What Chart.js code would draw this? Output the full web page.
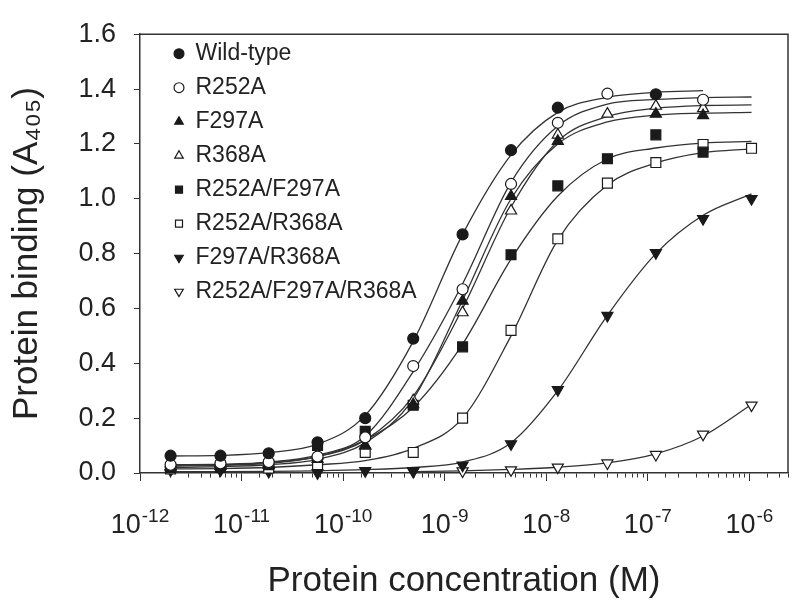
<!DOCTYPE html>
<html>
<head>
<meta charset="utf-8">
<script src="https://cdn.jsdelivr.net/npm/chart.js@4.4.1/dist/chart.umd.min.js"></script>
<style>
  html, body { margin: 0; padding: 0; background: #fff; }
  #wrap { width: 800px; height: 611px; }
</style>
</head>
<body>
<div id="wrap"><canvas id="chart" width="800" height="611"></canvas></div>
<script>
// protein concentration (M), 3-fold dilutions
const concentrations = [2.0e-12, 6.2e-12, 1.85e-11, 5.6e-11, 1.65e-10, 4.9e-10, 1.5e-9, 4.5e-9, 1.3e-8, 4.0e-8, 1.2e-7, 3.5e-7, 1.05e-6];

// measured points (A405), null = not shown
const wildType       = [0.063, 0.063, 0.072, 0.112, 0.20, 0.49, 0.87, 1.177, 1.332, null, 1.381, null, null];
const r252a          = [0.03, 0.035, 0.04, 0.06, 0.13, 0.39, 0.67, 1.054, 1.277, 1.383, null, 1.361, null];
const f297a          = [0.02, 0.025, 0.03, 0.05, 0.10, 0.25, 0.627, 1.009, 1.21, null, 1.309, 1.304, null];
const r368a          = [0.025, 0.034, 0.035, 0.063, 0.10, 0.264, 0.585, 0.956, 1.233, 1.309, 1.338, 1.329, null];
const r252aF297a     = [0.02, 0.02, 0.03, 0.10, 0.152, 0.247, 0.46, 0.796, 1.047, 1.146, 1.233, 1.170, null];
const r252aR368a     = [0.015, 0.02, 0.018, 0.03, 0.075, 0.075, 0.20, 0.52, 0.854, 1.057, 1.132, 1.198, 1.184];
const f297aR368a     = [0.01, 0.01, 0.005, 0.0, 0.008, 0.008, 0.028, 0.106, 0.303, 0.574, 0.803, 0.927, 1.0];
const r252aF297aR368a = [null, null, null, null, null, 0.005, 0.007, 0.011, 0.021, 0.036, 0.067, 0.141, 0.247];

// fitted curves at the same concentrations
const wildTypeFit       = [0.062, 0.064, 0.074, 0.105, 0.21, 0.48, 0.87, 1.16, 1.315, 1.37, 1.388, 1.394, null];
const r252aFit          = [0.03, 0.032, 0.04, 0.065, 0.135, 0.37, 0.69, 1.06, 1.265, 1.345, 1.362, 1.369, 1.371];
const f297aFit          = [0.02, 0.023, 0.03, 0.05, 0.11, 0.27, 0.63, 1.0, 1.2, 1.28, 1.305, 1.312, 1.315];
const r368aFit          = [0.028, 0.03, 0.038, 0.06, 0.12, 0.28, 0.6, 0.97, 1.21, 1.30, 1.33, 1.34, 1.342];
const r252aF297aFit     = [0.025, 0.028, 0.035, 0.06, 0.12, 0.24, 0.47, 0.78, 1.01, 1.145, 1.185, 1.203, 1.209];
const r252aR368aFit     = [0.015, 0.016, 0.02, 0.03, 0.045, 0.09, 0.2, 0.5, 0.85, 1.05, 1.13, 1.168, 1.182];
const f297aR368aFit     = [0.005, 0.005, 0.006, 0.008, 0.012, 0.02, 0.04, 0.11, 0.3, 0.575, 0.8, 0.94, 1.018];
const r252aF297aR368aFit = [null, null, null, null, null, 0.005, 0.008, 0.013, 0.021, 0.037, 0.07, 0.135, 0.25];

const yTicks = [0, 0.2, 0.4, 0.6, 0.8, 1.0, 1.2, 1.4, 1.6];

const series = [
  { label: "Wild-type", pts: wildType, fit: wildTypeFit, style: "circle", filled: true },
  { label: "R252A", pts: r252a, fit: r252aFit, style: "circle", filled: false },
  { label: "F297A", pts: f297a, fit: f297aFit, style: "triangle", filled: true },
  { label: "R368A", pts: r368a, fit: r368aFit, style: "triangle", filled: false },
  { label: "R252A/F297A", pts: r252aF297a, fit: r252aF297aFit, style: "rect", filled: true },
  { label: "R252A/R368A", pts: r252aR368a, fit: r252aR368aFit, style: "rect", filled: false },
  { label: "F297A/R368A", pts: f297aR368a, fit: f297aR368aFit, style: "triangle", rot: 180, filled: true },
  { label: "R252A/F297A/R368A", pts: r252aF297aR368a, fit: r252aF297aR368aFit, style: "triangle", rot: 180, filled: false }
];

const ink = "#1a1a1a";
const fontFamily = "'Liberation Sans', Arial, Helvetica, sans-serif";
const radii = { circle: 5.5, rect: 7, triangle: 6.4 };

const toXY = ys => concentrations.map((x, i) => ({ x, y: ys[i] })).filter(p => p.y !== null);

const datasets = [];
for (const s of series) {
  datasets.push({
    label: s.label,
    data: toXY(s.pts),
    showLine: false,
    pointStyle: s.style,
    rotation: s.rot || 0,
    pointRadius: radii[s.style],
    backgroundColor: s.filled ? ink : "#ffffff",
    borderColor: ink,
    borderWidth: 1.2,
    clip: false,
    order: 0
  });
}
for (const s of series) {
  datasets.push({
    label: s.label + " fit",
    isFit: true,
    data: toXY(s.fit),
    showLine: true,
    pointRadius: 0,
    borderColor: "#333333",
    borderWidth: 1.3,
    cubicInterpolationMode: "monotone",
    fill: false,
    order: 1
  });
}

const isPow10 = v => Math.abs(Math.log10(v) - Math.round(Math.log10(v))) < 1e-6;

// legend sits inside the plot, a bit in from the corner
const legendShift = {
  id: "legendShift",
  beforeDraw(chart) {
    chart.legend.left = chart.chartArea.left + 23;
    chart.legend.top = chart.chartArea.top - 3;
  }
};

// "10" with a raised exponent under each decade tick
const powerLabels = {
  id: "powerLabels",
  afterDraw(chart) {
    const sx = chart.scales.x;
    const ctx = chart.ctx;
    const base = chart.chartArea.bottom + 60;
    ctx.save();
    ctx.fillStyle = "#222";
    ctx.textAlign = "left";
    ctx.textBaseline = "alphabetic";
    for (const t of sx.ticks) {
      if (!isPow10(t.value)) continue;
      const exp = String(Math.round(Math.log10(t.value)));
      ctx.font = "27px " + fontFamily;
      const wMain = ctx.measureText("10").width;
      ctx.font = "19px " + fontFamily;
      const wExp = ctx.measureText(exp).width;
      const x0 = sx.getPixelForValue(t.value) - (wMain + 1 + wExp) / 2;
      ctx.font = "27px " + fontFamily;
      ctx.fillText("10", x0, base);
      ctx.font = "19px " + fontFamily;
      ctx.fillText(exp, x0 + wMain + 1, base - 11);
    }
    ctx.restore();
  }
};

// top and right sides of the box
const frame = {
  id: "frame",
  afterDraw(chart) {
    const { ctx, chartArea: a } = chart;
    ctx.save();
    ctx.strokeStyle = "#333";
    ctx.lineWidth = 1.5;
    ctx.beginPath();
    ctx.moveTo(a.left, a.top);
    ctx.lineTo(a.right, a.top);
    ctx.lineTo(a.right, a.bottom);
    ctx.stroke();
    ctx.restore();
  }
};

Chart.defaults.font.family = fontFamily;
Chart.defaults.color = "#222";

new Chart(document.getElementById("chart"), {
  type: "scatter",
  data: { datasets },
  plugins: [legendShift, powerLabels, frame],
  options: {
    responsive: false,
    animation: false,
    events: [],
    layout: { padding: { left: 0, right: 12, top: 19, bottom: 0 } },
    plugins: {
      tooltip: { enabled: false },
      legend: {
        position: "chartArea",
        align: "start",
        labels: {
          usePointStyle: true,
          boxWidth: 10,
          boxHeight: 7,
          padding: 11,
          color: "#222",
          font: { size: 23 },
          filter: (item, data) => !data.datasets[item.datasetIndex].isFit
        }
      }
    },
    scales: {
      x: {
        type: "logarithmic",
        min: 1e-12,
        max: 2.4e-6,
        afterFit: scale => { scale.height = 138; },
        border: { color: "#333", width: 1.5 },
        grid: {
          drawOnChartArea: false,
          tickLength: 8,
          tickColor: "#333",
          tickBorderDash: ctx => (ctx.tick && !isPow10(ctx.tick.value)) ? [4, 40] : []
        },
        ticks: {
          autoSkip: false,
          maxRotation: 0,
          font: { size: 27 },
          callback: () => ""
        },
        title: {
          display: true,
          text: "Protein concentration (M)",
          color: "#222",
          font: { size: 35 },
          padding: { top: 0, bottom: 9 }
        }
      },
      y: {
        min: 0,
        max: 1.6,
        afterFit: scale => { scale.width = 140; },
        afterBuildTicks: scale => { scale.ticks = yTicks.map(v => ({ value: v })); },
        border: { color: "#333", width: 1.5 },
        grid: { drawOnChartArea: false, tickLength: 6, tickColor: "#333" },
        ticks: {
          padding: 18,
          color: "#222",
          font: { size: 27 },
          callback: v => Number(v).toFixed(1)
        },
        title: {
          display: true,
          text: "Protein binding (A₄₀₅)",
          color: "#222",
          font: { size: 35 },
          padding: { top: 6, bottom: 0 }
        }
      }
    }
  }
});
</script>
</body>
</html>
